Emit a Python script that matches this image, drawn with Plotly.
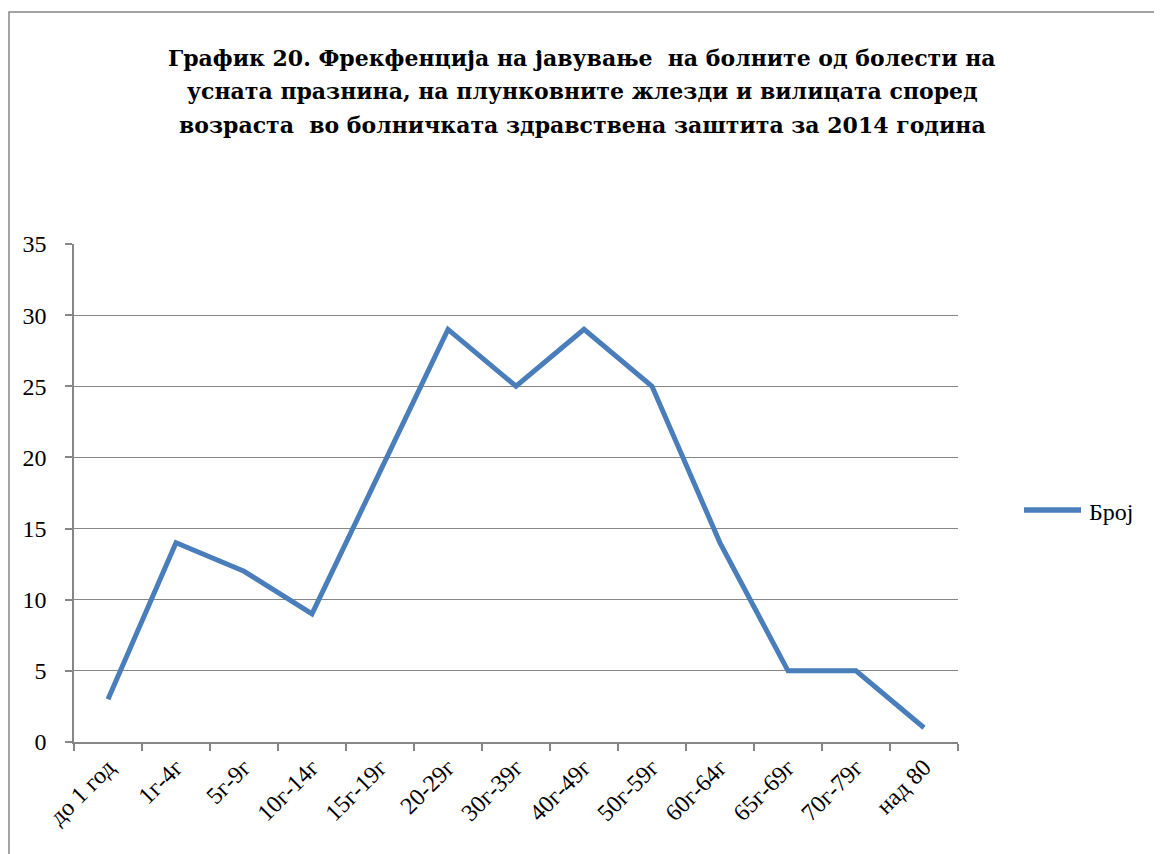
import plotly.graph_objects as go

categories = ["до 1 год", "1г-4г", "5г-9г", "10г-14г", "15г-19г", "20-29г", "30г-39г",
              "40г-49г", "50г-59г", "60г-64г", "65г-69г", "70г-79г", "над 80"]
values = [3, 14, 12, 9, 19, 29, 25, 29, 25, 14, 5, 5, 1]
series_name = "Број"
title_lines = ["График 20. Фрекфенција на јавување  на болните од болести на",
               "усната празнина, на плункoвните жлезди и вилицата според",
               "возраста  во болничката здравствена заштита за 2014 година"]

OFF = 8  # page body margin
W, H = 1162 - OFF, 854 - OFF
L, R, T, B = 74 - OFF, 958 - OFF, 244 - OFF, 742 - OFF
LINE_COLOR = "#4a7ebb"
GRAY = "#868686"

fig = go.Figure()
fig.add_trace(go.Scatter(x=categories, y=values, mode="lines", name=series_name,
                         line=dict(color=LINE_COLOR, width=5), showlegend=False))


def px(x):
    return (x - OFF - L) / (R - L)


def py(y):
    return (B - (y - OFF)) / (B - T)


fig.update_layout(
    width=W, height=H,
    margin=dict(l=L, r=W - R, t=T, b=H - B, pad=0),
    paper_bgcolor="white", plot_bgcolor="white",
    font=dict(family="Liberation Serif, Times New Roman, serif", size=23, color="black"),
    showlegend=False,
    xaxis=dict(type="category", tickangle=-45, showgrid=False,
               showline=True, linecolor=GRAY, linewidth=1.5,
               ticks="outside", tickson="boundaries", ticklen=7, tickcolor=GRAY,
               tickwidth=1.5, range=[-0.5, 12.5], fixedrange=True,
               tickfont=dict(size=24)),
    yaxis=dict(range=[0, 35], dtick=5, showgrid=True, gridcolor=GRAY, gridwidth=1.2,
               showline=True, linecolor=GRAY, linewidth=1.5,
               ticks="outside", ticklen=7, tickcolor=GRAY, tickwidth=1.5,
               ticklabelstandoff=14,
               zeroline=False, fixedrange=True, tickfont=dict(size=24)),
)

for i, line in enumerate(title_lines):
    fig.add_annotation(text="<b>" + line + "</b>", xref="paper", yref="paper",
                       x=px(582), y=py(58 + i * 33.5), xanchor="center", yanchor="middle",
                       showarrow=False,
                       font=dict(size=22, family="DejaVu Serif, serif"))

# legend drawn manually (long line sample like the original)
fig.add_shape(type="line", xref="paper", yref="paper",
              x0=px(1024), x1=px(1081), y0=py(510), y1=py(510),
              line=dict(color=LINE_COLOR, width=5.5))
fig.add_annotation(text=series_name, xref="paper", yref="paper",
                   x=px(1087), y=py(512), xanchor="left", yanchor="middle",
                   showarrow=False, font=dict(size=24))

fig.add_shape(type="rect", xref="paper", yref="paper",
              x0=px(9), x1=px(1185), y0=py(12), y1=py(890),
              line=dict(color=GRAY, width=1.5), fillcolor="rgba(0,0,0,0)", layer="below")

fig.write_html("out.html")
